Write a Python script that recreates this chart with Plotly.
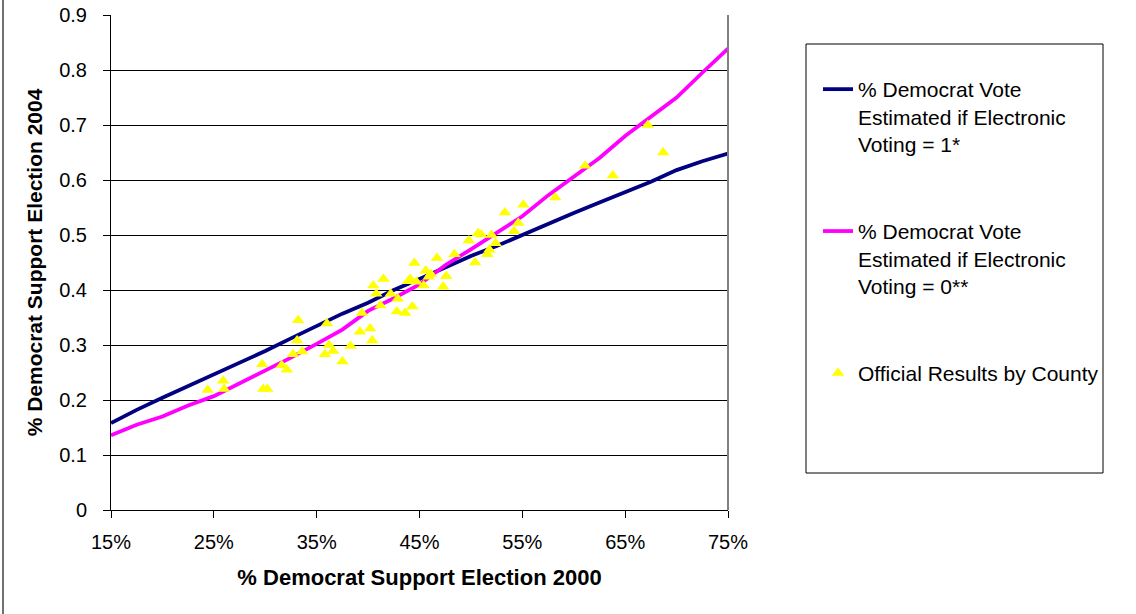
import plotly.graph_objects as go

# ---- data ----
line_x = [15, 17.5, 20, 22.5, 25, 27.5, 30, 32.5, 35, 37.5, 40, 42.5, 45,
          47.5, 50, 52.5, 55, 57.5, 60, 62.5, 65, 67.5, 70, 72.5, 75]
est_e1 = [0.158, 0.182, 0.204, 0.225, 0.247, 0.268, 0.289, 0.312, 0.335, 0.357,
          0.377, 0.400, 0.420, 0.441, 0.462, 0.480, 0.500, 0.521, 0.540, 0.559,
          0.578, 0.597, 0.618, 0.634, 0.648]
est_e0 = [0.136, 0.155, 0.170, 0.190, 0.207, 0.230, 0.253, 0.277, 0.302, 0.328,
          0.362, 0.385, 0.410, 0.445, 0.474, 0.503, 0.534, 0.572, 0.607, 0.640,
          0.680, 0.715, 0.750, 0.795, 0.839]

county_2000 = [24.4, 25.9, 26.0, 29.7, 29.8, 30.2, 31.6, 32.1, 32.7, 33.1, 33.2, 33.6,
               35.8, 36.0, 36.2, 36.6, 37.5, 38.3, 39.2, 39.4, 40.2, 40.4, 40.5, 40.8,
               41.2, 41.5, 42.2, 42.8, 42.9, 43.6, 43.9, 44.1, 44.3, 44.5, 44.7, 45.4,
               45.6, 45.9, 46.1, 46.7, 47.3, 47.6, 48.4, 49.8, 50.4, 50.7, 51.0, 51.6,
               51.8, 52.0, 52.4, 53.3, 54.2, 54.6, 55.1, 58.2, 61.1, 63.8, 67.2, 68.7]
county_2004 = [0.218, 0.235, 0.220, 0.265, 0.220, 0.220, 0.263, 0.255, 0.283, 0.308, 0.345, 0.288,
               0.283, 0.339, 0.300, 0.289, 0.270, 0.298, 0.324, 0.358, 0.330, 0.308, 0.408, 0.393,
               0.372, 0.420, 0.393, 0.361, 0.384, 0.358, 0.416, 0.420, 0.370, 0.449, 0.415, 0.408,
               0.435, 0.424, 0.429, 0.458, 0.406, 0.425, 0.465, 0.490, 0.450, 0.503, 0.501, 0.465,
               0.473, 0.500, 0.485, 0.541, 0.507, 0.522, 0.555, 0.568, 0.626, 0.608, 0.700, 0.650]

x_ticks = [0.15, 0.25, 0.35, 0.45, 0.55, 0.65, 0.75]
x_tick_labels = ["15%", "25%", "35%", "45%", "55%", "65%", "75%"]
y_ticks = [0, 0.1, 0.2, 0.3, 0.4, 0.5, 0.6, 0.7, 0.8, 0.9]
y_tick_labels = ["0", "0.1", "0.2", "0.3", "0.4", "0.5", "0.6", "0.7", "0.8", "0.9"]

names = ["% Democrat Vote<br>Estimated if Electronic<br>Voting = 1*",
         "% Democrat Vote<br>Estimated if Electronic<br>Voting = 0**",
         "Official Results by County"]

FONT = "Liberation Sans, Arial, sans-serif"

fig = go.Figure()
fig.add_trace(go.Scatter(x=[v / 100 for v in line_x], y=est_e1, mode="lines",
                         line=dict(color="#000080", width=3.8), name=names[0],
                         legendgroup="a"))
fig.add_trace(go.Scatter(x=[v / 100 for v in line_x], y=est_e0, mode="lines",
                         line=dict(color="#FF00FF", width=3.8), name=names[1],
                         legendgroup="b"))
fig.add_trace(go.Scatter(x=[v / 100 for v in county_2000], y=county_2004, mode="markers",
                         marker=dict(symbol="triangle-up", color="#FFFF00", size=11,
                                     line=dict(width=0)),
                         name=names[2], legendgroup="c"))

W, H = 1136, 614
L, R, T, B = 111, 728, 15, 510


def px(xp):
    return (xp - L) / (R - L)


def py(yp):
    return (B - yp) / (B - T)


fig.update_layout(
    width=W, height=H,
    margin=dict(l=L, r=W - R, t=T, b=H - B, autoexpand=False),
    paper_bgcolor="white", plot_bgcolor="white",
    font=dict(family=FONT, size=20, color="black"),
    showlegend=True,
    legend=dict(x=px(818), y=py(69), xanchor="left", yanchor="top",
                bgcolor="rgba(0,0,0,0)", borderwidth=0, tracegroupgap=57,
                valign="top", font=dict(family=FONT, size=21, color="black"),
                traceorder="grouped"),
    xaxis=dict(range=[0.15, 0.75], tickvals=x_ticks, ticktext=x_tick_labels,
               showgrid=False, zeroline=False, showline=True, linecolor="black",
               linewidth=1, ticks="outside", ticklen=7, tickcolor="black",
               ticklabelstandoff=7,
               title=dict(text="<b>% Democrat Support Election 2000</b>",
                          font=dict(family=FONT, size=22), standoff=17)),
    yaxis=dict(range=[0, 0.9], tickvals=y_ticks, ticktext=y_tick_labels,
               showgrid=True, gridcolor="black", gridwidth=1, zeroline=False,
               showline=True, linecolor="black", linewidth=1, ticks="outside",
               ticklen=7, tickcolor="black", ticklabelstandoff=12,
               title=dict(text="<b>% Democrat Support Election 2004</b>",
                          font=dict(family=FONT, size=21), standoff=10)),
    shapes=[
        # right edge of plot area
        dict(type="line", xref="paper", yref="paper", x0=1, x1=1, y0=0, y1=1,
             line=dict(color="#808080", width=2)),
        # legend box
        dict(type="rect", xref="paper", yref="paper", x0=px(806), x1=px(1103),
             y0=py(473), y1=py(44), line=dict(color="black", width=1),
             fillcolor="rgba(0,0,0,0)"),
        # outer left frame line
        dict(type="line", xref="paper", yref="paper", x0=px(3), x1=px(3),
             y0=py(H), y1=py(0), line=dict(color="#404040", width=1.5)),
    ],
)

fig.write_html("out.html", config={"displayModeBar": False},
               post_script="document.body.style.margin='0';document.body.style.overflow='hidden';")
